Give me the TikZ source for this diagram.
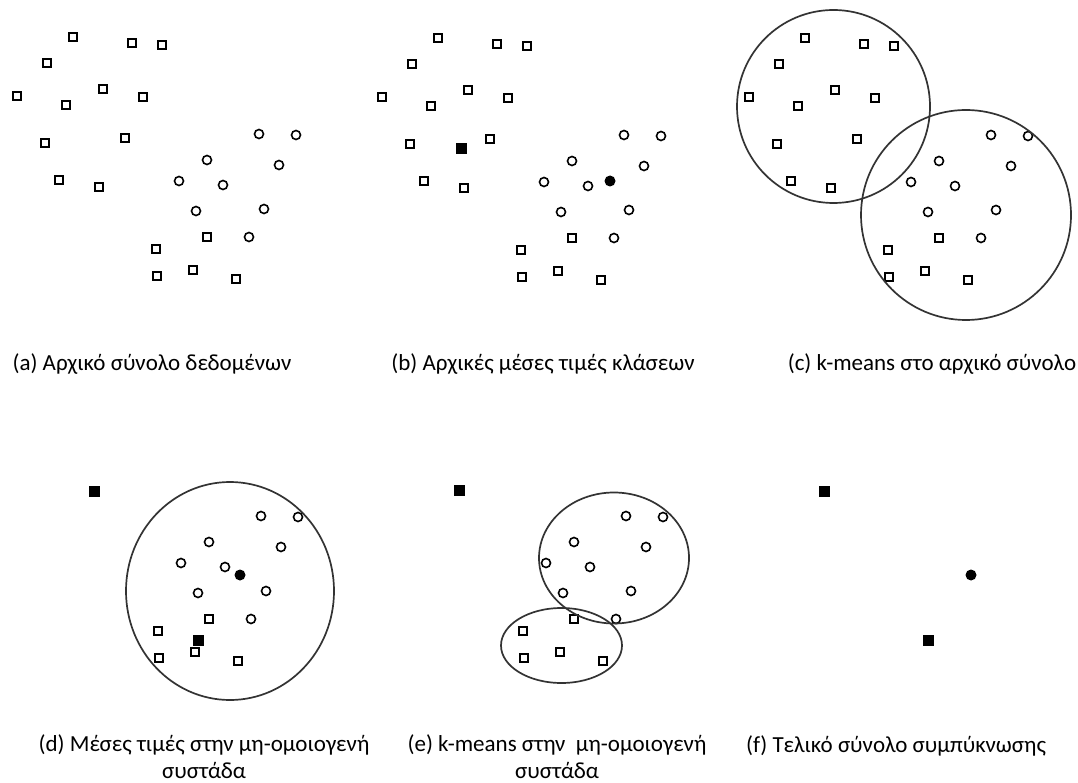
\documentclass[tikz,border=0pt]{standalone}
\usepackage{fontspec}
\setmainfont{Carlito}
\usetikzlibrary{positioning}

\tikzset{
    mk/.style={draw=black, line width=1.7pt, inner sep=0pt, minimum size=8.5pt},
    sq/.style={mk, rectangle},
    cr/.style={mk, circle, minimum size=9pt, line width=1.6pt},
    msq/.style={rectangle, fill=black, inner sep=0pt, minimum size=11pt},
    mcr/.style={circle, fill=black, inner sep=0pt, minimum size=11pt},
    ring/.style={draw=black!80, line width=1.7pt},
    lbl/.style={font=\fontsize{23}{26.5}\selectfont, align=center, anchor=base}
}

\def\upsq{73/37,132/43,162/45,47/63,17/96,66/105,103/89,143/97,45/143,125/138,59/180,99/187}
\def\losq{156/249,157/276,207/237,193/270,236/279}
\def\circs{259/134,296/135,207/160,279/165,179/181,223/185,196/211,264/209,249/237}

\begin{document}
\begin{tikzpicture}[x=1pt, y=-1pt]
        \fill[white] (0,0) rectangle (1078,783);
        \useasboundingbox (0,0) rectangle (1078,783);

        % (a)
        \foreach \x/\y [count=\i] in \upsq \node[sq] (a-u\i) at (\x,\y) {};
        \foreach \x/\y [count=\i] in \losq \node[sq] (a-l\i) at (\x,\y) {};
        \foreach \x/\y [count=\i] in \circs \node[cr] (a-c\i) at (\x,\y) {};

        % (b)
        \begin{scope}[shift={(365,1)}]
            \foreach \x/\y [count=\i] in \upsq \node[sq] (b-u\i) at (\x,\y) {};
            \foreach \x/\y [count=\i] in \losq \node[sq] (b-l\i) at (\x,\y) {};
            \foreach \x/\y [count=\i] in \circs \node[cr] (b-c\i) at (\x,\y) {};
            \node[msq] (b-m1) at (96,148) {};
            \node[mcr] (b-m2) at (245,180) {};
        \end{scope}

        % (c)
        \begin{scope}[shift={(732,1)}]
            \foreach \x/\y [count=\i] in \upsq \node[sq] (c-u\i) at (\x,\y) {};
            \foreach \x/\y [count=\i] in \losq \node[sq] (c-l\i) at (\x,\y) {};
            \foreach \x/\y [count=\i] in \circs \node[cr] (c-c\i) at (\x,\y) {};
            \coordinate (c-k1) at (101.5,105.5);
            \coordinate (c-k2) at (234,214);
            \draw[ring] (c-k1) circle [radius=96.5pt];
            \draw[ring] (c-k2) circle [radius=105pt];
        \end{scope}

        % (d)
        \begin{scope}[shift={(2,382)}]
            \foreach \x/\y [count=\i] in \losq \node[sq] (d-l\i) at (\x,\y) {};
            \foreach \x/\y [count=\i] in \circs \node[cr] (d-c\i) at (\x,\y) {};
            \coordinate (d-k) at (228,209);
            \draw[ring] (d-k) ellipse [x radius=104pt, y radius=109pt];
        \end{scope}
        \node[msq] (d-m1) at (94,491) {};
        \node[mcr] (d-m2) at (240,575) {};
        \node[msq] (d-m3) at (198,640) {};

        % (e)
        \begin{scope}[shift={(367,382)}]
            \foreach \x/\y [count=\i] in \losq \node[sq] (e-l\i) at (\x,\y) {};
            \foreach \x/\y [count=\i] in \circs \node[cr] (e-c\i) at (\x,\y) {};
            \coordinate (e-k1) at (247,176);
            \coordinate (e-k2) at (194.5,263.5);
            \draw[ring] (e-k1) ellipse [x radius=75pt, y radius=65.5pt];
            \draw[ring] (e-k2) ellipse [x radius=60.5pt, y radius=37.5pt];
        \end{scope}
        \node[msq] (e-m1) at (459,490) {};

        % (f)
        \node[msq] (f-m1) at (824,491) {};
        \node[mcr] (f-m2) at (971,575) {};
        \node[msq] (f-m3) at (928,640) {};

        \node[lbl] (a-lbl) at (152,370) {(a) Αρχικό σύνολο δεδομένων};
        \node[lbl] (b-lbl) at (543,370) {(b) Αρχικές μέσες τιμές κλάσεων};
        \node[lbl] (c-lbl) at (932,370) {(c) k-means στο αρχικό σύνολο};
        \node[lbl] (d-lbl) at (204,778) {(d) Μέσες τιμές στην μη-ομοιογενή\\συστάδα};
        \node[lbl] (e-lbl) at (557,778) {(e) k-means στην\ \ μη-ομοιογενή\\συστάδα};
        \node[lbl] (f-lbl) at (896,752) {(f) Τελικό σύνολο συμπύκνωσης};
\end{tikzpicture}
\end{document}
